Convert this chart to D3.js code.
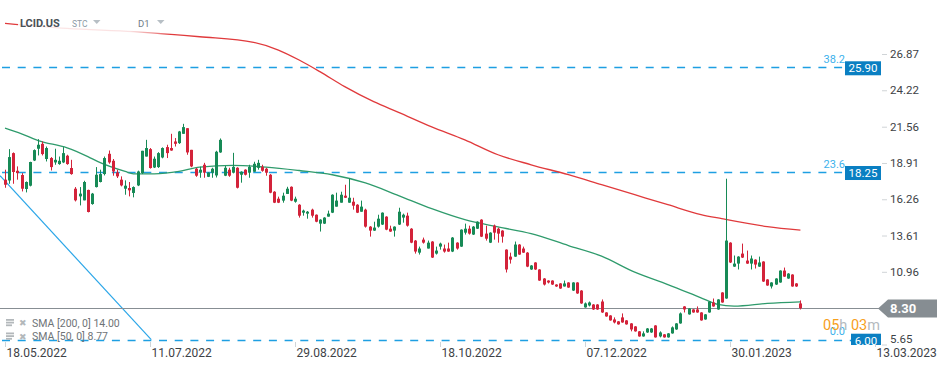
<!DOCTYPE html>
<html>
<head>
<meta charset="utf-8">
<script src="https://cdn.jsdelivr.net/npm/d3@7"></script>
<style>
body { margin: 0; background: #fff; }
svg { display: block; font-family: Roboto, "Noto Sans", sans-serif; }
</style>
</head>
<body>
<script>
var W = 949, H = 370;

// daily candles, one per trading day from 18.05.2022
var opens = [17.69,17.63,19.63,18.34,18.03,17.01,17.25,19.09,19.95,20.31,19.20,19.27,18.95,18.83,18.95,19.44,18.54,17.03,16.47,16.18,
  16.94,15.91,17.15,17.52,18.10,19.58,19.07,18.22,17.69,17.03,17.08,16.72,17.27,18.17,19.38,19.92,18.58,18.61,19.31,20.07,
  20.00,20.48,20.36,21.04,21.45,19.87,18.49,18.20,18.78,17.90,18.20,18.00,19.68,17.98,18.42,18.20,18.56,18.05,18.42,18.20,
  18.27,18.56,18.63,18.49,18.05,16.81,16.30,16.16,16.65,17.17,16.08,15.86,15.28,15.21,15.50,15.13,14.48,14.48,14.99,15.28,
  15.72,16.01,16.52,16.01,16.08,15.86,15.35,15.50,14.26,13.97,14.26,14.41,14.99,14.11,13.97,14.41,14.92,15.06,14.11,13.24,
  12.36,13.31,12.66,13.17,12.29,12.80,12.66,12.66,12.44,13.09,12.80,13.82,14.11,13.68,14.11,14.77,13.75,13.09,14.33,14.11,
  13.97,12.58,12.07,12.07,12.95,12.66,12.36,11.13,11.64,11.13,10.47,10.32,10.32,10.03,10.11,9.89,10.18,9.59,10.18,9.59,
  8.36,8.50,8.57,8.57,8.79,7.99,7.77,7.48,7.34,7.63,7.41,7.19,6.97,6.61,6.24,6.53,6.53,7.04,6.24,6.39,
  6.17,6.46,6.75,7.19,8.43,7.85,8.21,8.21,7.99,7.48,7.99,8.72,8.21,9.45,9.01,13.09,11.34,11.56,12.29,11.78,
  11.56,11.85,11.34,11.71,10.40,9.89,10.03,10.18,11.05,10.47,10.76,10.11,8.65];
var highs = [18.42,19.92,19.68,18.66,18.17,17.56,19.00,19.90,20.65,20.48,20.11,19.34,19.95,19.38,20.07,19.51,19.14,17.15,17.15,17.61,
  16.96,16.72,18.61,18.42,19.38,19.82,19.20,18.42,17.93,17.64,17.52,17.20,18.35,19.80,20.60,20.00,19.38,19.70,20.05,20.24,
  21.04,20.73,21.25,21.77,21.45,19.87,18.55,18.64,18.92,18.22,18.56,19.80,20.70,18.70,18.56,19.65,18.60,18.30,18.45,18.78,
  19.00,19.14,18.78,18.56,18.10,16.85,16.45,16.74,17.17,17.20,16.45,15.90,15.50,15.40,15.57,15.15,14.80,14.95,15.43,16.62,
  16.74,16.81,17.32,17.76,16.37,15.90,16.16,15.57,14.30,14.62,15.13,15.30,15.02,14.33,14.28,15.64,15.21,15.28,14.15,13.28,
  12.80,13.46,13.24,13.20,12.80,13.09,12.95,13.09,13.50,13.12,14.06,14.48,14.33,14.30,14.65,14.80,14.33,13.85,14.41,14.19,
  14.00,12.60,12.36,13.17,12.98,12.80,12.40,11.45,11.66,11.15,10.50,10.34,10.34,10.05,10.13,10.32,10.20,10.20,10.20,9.62,
  8.72,8.79,8.60,8.60,8.94,8.01,7.79,7.63,7.36,7.92,7.43,7.21,6.99,6.63,6.61,6.85,6.85,7.06,6.61,6.41,
  6.48,6.97,7.21,7.99,8.45,8.31,8.23,8.43,8.01,7.87,8.81,9.01,8.96,9.47,17.76,13.12,12.15,12.10,13.02,12.51,
  12.15,11.87,12.07,11.73,10.42,10.20,10.49,11.07,11.27,10.86,10.78,10.13,8.87];
var lows = [17.10,17.39,17.39,17.69,16.83,16.76,17.20,19.05,19.46,19.46,19.02,18.36,18.78,18.78,18.90,18.78,18.05,16.10,15.81,16.18,
  15.30,15.86,17.12,17.49,18.00,18.85,17.98,17.81,17.20,16.59,16.47,16.40,17.22,18.10,19.38,18.50,18.54,18.55,19.25,19.27,
  19.80,20.11,20.30,21.04,19.51,18.60,17.90,17.83,17.83,17.88,17.83,17.85,19.65,17.95,17.90,18.15,17.05,17.47,18.00,17.83,
  18.27,18.42,18.27,17.98,16.70,15.98,15.98,16.01,16.65,16.12,16.01,14.92,15.06,14.84,14.92,14.58,13.90,14.45,14.99,15.25,
  15.72,16.01,16.35,16.00,15.50,15.25,15.35,14.19,13.53,13.95,14.19,14.38,14.00,13.88,13.53,14.38,14.55,14.26,13.05,12.29,
  12.22,13.02,12.66,11.97,12.22,12.58,12.36,12.42,12.40,12.58,12.78,13.68,13.68,13.65,14.09,13.50,13.24,13.06,13.31,13.09,
  13.09,10.91,11.56,12.05,12.20,12.34,11.30,11.10,11.10,10.30,9.96,10.11,10.00,9.86,9.72,9.88,9.79,9.56,9.35,8.62,
  8.34,8.43,8.18,8.18,7.96,7.68,7.39,7.19,7.10,7.24,7.10,6.61,6.59,6.22,6.22,6.50,6.50,6.15,6.17,6.15,
  6.15,6.44,6.72,7.17,7.99,7.83,7.97,7.97,7.39,7.46,7.97,8.41,8.19,8.70,8.99,11.60,11.32,11.13,11.97,11.54,
  11.13,11.20,11.32,10.22,9.94,9.74,10.00,10.16,10.59,10.45,9.87,9.86,8.21];
var closes = [17.32,19.34,18.25,18.17,17.03,17.52,18.98,19.85,20.24,19.56,20.00,18.61,19.14,19.07,19.63,18.83,18.10,16.18,16.67,17.52,
  15.33,16.67,18.05,18.10,19.27,18.95,18.29,17.93,17.27,17.25,16.91,17.15,18.29,19.80,20.00,18.54,19.22,19.63,20.00,19.63,
  19.82,20.31,21.21,21.53,19.68,18.66,17.98,18.42,18.20,18.20,18.49,19.73,20.60,18.56,17.98,18.63,17.10,18.27,18.05,18.63,
  18.85,18.92,18.34,18.20,16.74,16.01,16.01,16.52,17.03,16.16,16.30,15.06,15.43,15.35,15.06,14.62,14.77,14.92,15.21,16.59,
  16.16,16.59,16.37,16.37,15.79,15.28,15.72,14.26,13.97,14.19,14.84,15.28,14.04,13.90,14.26,15.35,15.13,14.33,13.09,12.44,
  12.66,13.09,13.09,12.00,12.51,13.02,12.44,12.44,13.46,12.66,14.04,14.11,13.75,14.26,14.62,13.53,13.38,13.82,13.82,13.75,
  13.53,11.13,11.85,12.95,12.22,12.36,11.34,11.42,11.13,10.32,10.03,10.18,10.03,9.89,9.74,10.11,9.81,10.18,9.38,8.65,
  8.65,8.72,8.21,8.21,7.99,7.70,7.41,7.26,7.12,7.26,7.12,6.75,6.61,6.24,6.46,6.82,6.82,6.17,6.53,6.17,
  6.46,6.90,7.19,7.92,8.21,8.28,7.99,7.99,7.41,7.85,8.79,8.43,8.94,8.72,13.24,11.64,11.56,12.07,12.00,11.56,
  11.93,11.49,11.64,10.25,9.96,10.18,10.47,11.05,10.61,10.83,9.89,9.89,8.30];

// moving averages read at bar indices
var sma200Idx = [0,15,31,47,60,66,71,76,82,89,95,103,111,119,127,136,144,152,160,168,173,184,192];
var sma200Val = [29.11,28.74,28.50,28.13,27.72,27.16,26.43,25.58,24.49,23.39,22.61,21.55,20.60,19.51,18.78,18.05,17.32,16.59,15.86,15.14,14.84,14.26,14.00];
var sma50Idx = [0,4,8,15,20,23,29,31,36,42,47,55,63,71,79,87,95,103,111,119,127,136,144,152,160,168,172,176,184,192];
var sma50Val = [21.45,21.04,20.55,20.02,19.38,18.93,18.29,18.12,18.12,18.29,18.61,18.73,18.61,18.36,18.05,17.45,16.53,15.57,14.77,14.24,13.75,12.88,12.10,10.93,10.03,9.06,8.58,8.45,8.65,8.77];

var trendIdx = [-1.2, 35.3];
var trendVal = [17.98, 6.00];

var fibLevels = ["38.2", "23.6", "0.0"];
var fibPrices = [25.90, 18.25, 6.00];

var xTickIdx = [0, 35, 70, 105, 140, 175, 210];
var xTickLabels = ["18.05.2022", "11.07.2022", "29.08.2022", "18.10.2022", "07.12.2022", "30.01.2023", "13.03.2023"];
var yTicks = [26.87, 24.22, 21.56, 18.91, 16.26, 13.61, 10.96, 8.30, 5.65];
var lastPrice = 8.30;

var GREEN = "#178a56", RED = "#d3233a", FIB = "#1e9fe2";

var svg = d3.select("body")
    .append("svg")
    .attr("width", W)
    .attr("height", H);

var x = d3.scaleLinear().domain([0, 210]).range([5, 875]);
var y = d3.scaleLinear().domain([5.65, 26.87]).range([344.5, 54]);

var defs = svg.append("defs");
defs.append("clipPath").attr("id", "plot")
    .append("rect").attr("x", 0).attr("y", 0).attr("width", 881).attr("height", 346);
var grad = defs.append("linearGradient").attr("id", "hdrfade");
grad.append("stop").attr("offset", "0%").attr("stop-color", "#fff").attr("stop-opacity", 0.88);
grad.append("stop").attr("offset", "70%").attr("stop-color", "#fff").attr("stop-opacity", 0.85);
grad.append("stop").attr("offset", "100%").attr("stop-color", "#fff").attr("stop-opacity", 0);

var plot = svg.append("g").attr("clip-path", "url(#plot)");

// right price axis, the 8.30 tick text sits under the price tag
var yAxis = svg.append("g")
    .attr("transform", "translate(882,0)")
    .call(d3.axisRight(y).tickValues(yTicks).tickSize(5).tickPadding(3)
        .tickFormat(function (d) { return d == lastPrice ? "" : d.toFixed(2); }));
yAxis.select(".domain").remove();
yAxis.selectAll("line").attr("stroke", "#d0d4d7");
yAxis.selectAll("text")
    .attr("fill", "#3d4246")
    .attr("font-size", "11.5px")
    .attr("font-family", "Roboto, sans-serif")
    .attr("dy", function (d) { return y(d) > 340 ? "-0.15em" : "0.32em"; });

// bottom time axis
var xAxis = svg.append("g")
    .attr("transform", "translate(0,342)")
    .call(d3.axisBottom(x).tickValues(xTickIdx).tickSize(5).tickFormat(function (d, i) { return xTickLabels[i]; }));
xAxis.select(".domain").remove();
xAxis.selectAll("line").attr("stroke", "#d0d4d7");
xAxis.selectAll("text")
    .attr("text-anchor", "start")
    .attr("x", 1)
    .attr("y", 14.5)
    .attr("dy", 0)
    .attr("fill", "#3d4246")
    .attr("font-size", "12px")
    .attr("font-family", "Roboto, sans-serif");

// fibonacci levels
plot.selectAll("fibline")
    .data(fibPrices)
    .enter()
    .append("line")
    .attr("x1", 2)
    .attr("x2", function (d, i) { return i == 2 ? 851 : 845; })
    .attr("y1", function (d) { return Math.round(y(d)) + 0.5; })
    .attr("y2", function (d) { return Math.round(y(d)) + 0.5; })
    .attr("stroke", FIB)
    .attr("stroke-width", 1.4)
    .attr("stroke-dasharray", "8,7.7");

// trend line
plot.append("line")
    .attr("x1", x(trendIdx[0])).attr("y1", y(trendVal[0]))
    .attr("x2", x(trendIdx[1])).attr("y2", y(trendVal[1]))
    .attr("stroke", "#2ba6e8")
    .attr("stroke-width", 1.2);

// last price line
plot.append("line")
    .attr("x1", 0).attr("x2", 881)
    .attr("y1", Math.round(y(lastPrice)) + 0.5)
    .attr("y2", Math.round(y(lastPrice)) + 0.5)
    .attr("stroke", "#878e93")
    .attr("stroke-width", 1.2);

var line = d3.line()
    .x(function (d) { return x(d[0]); })
    .y(function (d) { return y(d[1]); })
    .curve(d3.curveMonotoneX);

plot.append("path")
    .datum(d3.zip(sma200Idx, sma200Val))
    .attr("d", line)
    .attr("fill", "none")
    .attr("stroke", "#e03a3c")
    .attr("stroke-width", 1.3);
plot.append("path")
    .datum(d3.zip(sma50Idx, sma50Val))
    .attr("d", line)
    .attr("fill", "none")
    .attr("stroke", "#2f9b6c")
    .attr("stroke-width", 1.3);

// candles
var bars = d3.range(closes.length).map(function (i) {
    return { i: i, o: opens[i], h: highs[i], l: lows[i], c: closes[i] };
});
var cx = function (d) { return Math.round(x(d.i)); };
var col = function (d) { return d.c >= d.o ? GREEN : RED; };

plot.selectAll("wick")
    .data(bars)
    .enter()
    .append("line")
    .attr("x1", function (d) { return cx(d) + 0.5; })
    .attr("x2", function (d) { return cx(d) + 0.5; })
    .attr("y1", function (d) { return y(d.h); })
    .attr("y2", function (d) { return y(d.l); })
    .attr("stroke", col)
    .attr("stroke-width", 1);
plot.selectAll("body")
    .data(bars)
    .enter()
    .append("rect")
    .attr("x", function (d) { return cx(d) - 1; })
    .attr("y", function (d) { return y(Math.max(d.o, d.c)); })
    .attr("width", 3)
    .attr("height", function (d) { return Math.max(1, Math.abs(y(d.o) - y(d.c))); })
    .attr("fill", col);

// fib labels and value boxes
svg.selectAll("fiblvl")
    .data(fibPrices)
    .enter()
    .append("text")
    .text(function (d, i) { return fibLevels[i]; })
    .attr("x", 845)
    .attr("y", function (d) { return y(d) - 4.5; })
    .attr("text-anchor", "end")
    .attr("fill", "#3cb1ec")
    .attr("font-size", "11px");
svg.selectAll("fibbox")
    .data(fibPrices)
    .enter()
    .append("rect")
    .attr("x", function (d, i) { return i == 2 ? 851 : 845; })
    .attr("y", function (d) { return y(d) - 6; })
    .attr("width", function (d, i) { return i == 2 ? 30 : 36; })
    .attr("height", function (d) { return Math.min(14, 345 - (y(d) - 6)); })
    .attr("fill", "#0a7fc2");
svg.selectAll("fibval")
    .data(fibPrices)
    .enter()
    .append("text")
    .text(function (d) { return d.toFixed(2); })
    .attr("x", function (d, i) { return i == 2 ? 866 : 863; })
    .attr("y", function (d) { return y(d) + 5; })
    .attr("text-anchor", "middle")
    .attr("fill", "#fff")
    .attr("font-size", "11.5px");

// last price tag
var py = Math.round(y(lastPrice));
svg.append("path")
    .attr("d", "M878," + (py + 0.5) + "L888," + (py - 8.5) + "L937," + (py - 8.5) + "L937," + (py + 9.5) + "L888," + (py + 9.5) + "Z")
    .attr("fill", "#868d92");
svg.append("text")
    .text(lastPrice.toFixed(2))
    .attr("x", 890)
    .attr("y", py + 5)
    .attr("fill", "#fff")
    .attr("font-weight", "bold")
    .attr("font-size", "13px");

// countdown
var cd = svg.append("text")
    .attr("x", 823)
    .attr("y", 330)
    .attr("font-size", "14.5px");
cd.append("tspan").text("05").attr("fill", "#f7a01c");
cd.append("tspan").text("h ").attr("fill", "#b4babe");
cd.append("tspan").text("03").attr("fill", "#f7a01c");
cd.append("tspan").text("m").attr("fill", "#b4babe");

// header
svg.append("rect")
    .attr("x", 18).attr("y", 12).attr("width", 160).attr("height", 22)
    .attr("fill", "url(#hdrfade)");
svg.append("text").text("LCID.US")
    .attr("x", 20).attr("y", 27)
    .attr("fill", "#4a5157")
    .attr("font-weight", "bold")
    .attr("font-size", "11px");
svg.append("text").text("STC")
    .attr("x", 72).attr("y", 27)
    .attr("fill", "#8d9aa5")
    .attr("font-size", "8.5px");
svg.append("text").text("D1")
    .attr("x", 138).attr("y", 27)
    .attr("fill", "#6f7c86")
    .attr("font-size", "9.5px");
svg.selectAll("caret")
    .data([93, 157])
    .enter()
    .append("path")
    .attr("d", function (d) { return "M" + d + ",20L" + (d + 7.5) + ",20L" + (d + 3.75) + ",24Z"; })
    .attr("fill", "#b7bfc5");

// indicator legend
var legend = ["SMA [200, 0] 14.00", "SMA [50, 0] 8.77"];
var lg = svg.selectAll("legend")
    .data(legend)
    .enter()
    .append("g")
    .attr("transform", function (d, i) { return "translate(0," + (326.5 + i * 13.5) + ")"; });
lg.append("rect").attr("x", 6).attr("y", -7.5).attr("width", 8).attr("height", 1.8).attr("fill", "#b3b8bb");
lg.append("rect").attr("x", 6).attr("y", -4.8).attr("width", 8).attr("height", 1.8).attr("fill", "#b3b8bb");
lg.append("rect").attr("x", 6).attr("y", -2.1).attr("width", 6).attr("height", 1.8).attr("fill", "#b3b8bb");
lg.append("text").text("\u2716")
    .attr("x", 19).attr("y", -0.5)
    .attr("fill", "#b3b8bb")
    .attr("font-size", "9px");
lg.append("text").text(function (d) { return d; })
    .attr("x", 32).attr("y", 0)
    .attr("fill", "#6e7377")
    .attr("font-size", "10.5px");
</script>
</body>
</html>
